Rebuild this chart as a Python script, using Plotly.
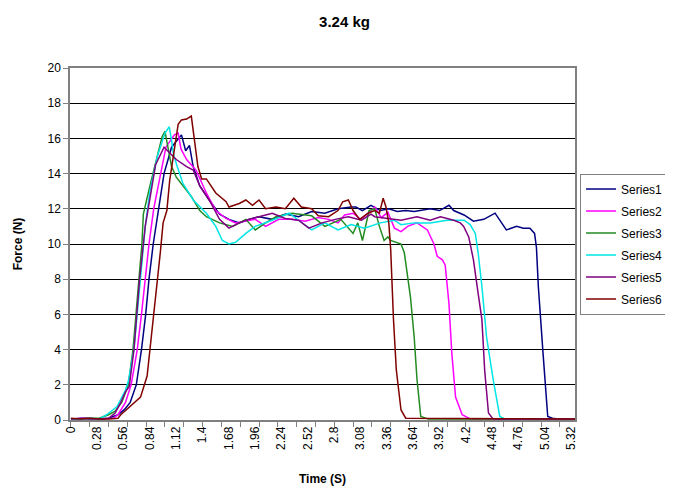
import plotly.graph_objects as go

# ---- data (time in s, force in N) ----
s1_t = [0, 0.12, 0.2, 0.3, 0.4, 0.5, 0.57, 0.63, 0.695, 0.75, 0.795, 0.83, 0.875, 0.93, 0.99, 1.07, 1.13, 1.175, 1.22, 1.26, 1.30, 1.37, 1.47, 1.58, 1.68, 1.79, 1.89, 2.0, 2.14, 2.28, 2.42, 2.56, 2.70, 2.84, 2.98, 3.03, 3.10, 3.19, 3.29, 3.38, 3.47, 3.56, 3.65, 3.74, 3.82, 3.92, 4.02, 4.07, 4.18, 4.28, 4.39, 4.51, 4.57, 4.63, 4.74, 4.81, 4.88, 4.93, 4.95, 4.97, 5.02, 5.07, 5.12, 5.2, 5.36]
s1_f = [0.05, 0.1, 0.05, 0.05, 0.1, 0.3, 0.6, 1.0, 2.0, 4.0, 6.0, 8.0, 10.0, 12.0, 14.0, 15.5, 15.9, 16.2, 15.3, 15.6, 14.4, 13.3, 12.5, 11.7, 11.4, 11.2, 11.4, 11.55, 11.4, 11.7, 11.55, 11.85, 11.75, 12.0, 12.1, 12.1, 11.9, 12.2, 11.9, 12.0, 11.85, 11.9, 11.85, 11.95, 12.0, 11.9, 12.2, 11.9, 11.65, 11.3, 11.4, 11.75, 11.3, 10.8, 11.0, 10.9, 10.9, 10.6, 9.8, 7.6, 3.8, 0.2, 0.1, 0.05, 0.05]

s2_t = [0, 0.15, 0.3, 0.45, 0.5, 0.58, 0.64, 0.705, 0.75, 0.79, 0.83, 0.88, 0.95, 1.01, 1.1, 1.14, 1.17, 1.23, 1.33, 1.44, 1.54, 1.65, 1.75, 1.86, 1.96, 2.07, 2.21, 2.35, 2.49, 2.63, 2.74, 2.84, 2.91, 3.0, 3.08, 3.16, 3.23, 3.30, 3.37, 3.44, 3.51, 3.58, 3.68, 3.79, 3.86, 3.895, 3.95, 3.98, 4.02, 4.05, 4.09, 4.16, 4.25, 5.36]
s2_f = [0.05, 0.1, 0.05, 0.1, 0.3, 1.0, 2.0, 4.0, 6.0, 8.0, 10.0, 12.0, 14.0, 15.5, 16.2, 16.3, 15.4, 14.8, 14.2, 12.9, 11.9, 11.45, 11.2, 11.3, 11.4, 11.0, 11.4, 11.4, 11.3, 11.5, 11.4, 11.2, 11.65, 11.75, 11.4, 11.75, 12.1, 11.5, 11.8, 10.9, 10.7, 11.0, 11.2, 10.8, 10.0, 9.3, 9.1, 8.8, 6.6, 3.8, 1.3, 0.3, 0.05, 0.05]

s3_t = [0, 0.1, 0.2, 0.3, 0.4, 0.47, 0.54, 0.61, 0.66, 0.695, 0.723, 0.755, 0.77, 0.84, 0.915, 0.97, 1.0, 1.025, 1.07, 1.12, 1.19, 1.28, 1.37, 1.44, 1.58, 1.72, 1.86, 1.96, 2.07, 2.18, 2.35, 2.56, 2.70, 2.87, 3.0, 3.05, 3.1, 3.17, 3.23, 3.28, 3.33, 3.37, 3.40, 3.45, 3.51, 3.545, 3.58, 3.61, 3.65, 3.68, 3.72, 3.8, 5.36]
s3_f = [0.05, 0.05, 0.1, 0.1, 0.3, 0.5, 1.0, 2.0, 4.0, 6.0, 8.0, 10.0, 11.7, 13.3, 15.0, 16.1, 16.4, 15.7, 14.4, 13.8, 13.3, 12.7, 11.9, 11.55, 11.2, 11.0, 11.4, 10.8, 11.2, 11.55, 11.75, 11.6, 11.0, 11.4, 10.6, 11.2, 10.2, 11.9, 12.0, 11.0, 10.2, 10.4, 10.2, 10.1, 10.0, 9.5, 8.1, 7.0, 4.7, 2.3, 0.2, 0.05, 0.05]

s4_t = [0, 0.1, 0.2, 0.3, 0.38, 0.49, 0.58, 0.61, 0.67, 0.74, 0.79, 0.84, 0.92, 1.0, 1.045, 1.07, 1.09, 1.13, 1.19, 1.30, 1.44, 1.54, 1.61, 1.68, 1.75, 1.86, 1.96, 2.14, 2.32, 2.42, 2.56, 2.70, 2.84, 2.98, 3.12, 3.29, 3.44, 3.51, 3.65, 3.82, 4.0, 4.18, 4.245, 4.3, 4.33, 4.37, 4.42, 4.49, 4.56, 4.62, 5.36]
s4_f = [0.05, 0.05, 0.1, 0.05, 0.3, 0.76, 1.7, 2.2, 4.0, 8.0, 11.0, 13.0, 15.0, 16.3, 16.66, 15.9, 15.1, 14.4, 13.45, 12.5, 11.75, 11.0, 10.2, 10.0, 10.1, 10.6, 11.0, 11.35, 11.75, 11.35, 10.8, 11.2, 10.8, 11.1, 10.9, 11.2, 11.35, 11.1, 11.2, 11.2, 11.35, 11.35, 11.1, 10.6, 9.5, 7.6, 4.7, 2.3, 0.2, 0.05, 0.05]

s5_t = [0, 0.15, 0.3, 0.4, 0.47, 0.53, 0.58, 0.62, 0.67, 0.73, 0.79, 0.85, 0.9, 0.99, 1.05, 1.12, 1.23, 1.30, 1.37, 1.47, 1.58, 1.68, 1.79, 1.89, 2.0, 2.14, 2.28, 2.42, 2.53, 2.67, 2.81, 2.95, 3.09, 3.19, 3.23, 3.37, 3.51, 3.68, 3.82, 3.93, 4.07, 4.14, 4.176, 4.23, 4.28, 4.33, 4.37, 4.40, 4.44, 4.49, 5.36]
s5_f = [0.05, 0.1, 0.05, 0.1, 0.4, 1.0, 1.6, 1.9, 4.0, 8.0, 11.0, 13.0, 14.5, 15.5, 15.2, 14.8, 14.4, 14.2, 13.3, 12.5, 11.4, 10.9, 11.2, 11.4, 11.55, 11.75, 11.45, 11.35, 10.9, 11.2, 11.4, 11.55, 11.35, 11.7, 11.55, 11.45, 11.35, 11.55, 11.35, 11.55, 11.35, 11.2, 11.0, 10.4, 9.1, 7.2, 5.7, 2.8, 0.4, 0.05, 0.05]

s6_t = [0, 0.1, 0.2, 0.3, 0.4, 0.5, 0.53, 0.63, 0.74, 0.81, 0.84, 0.88, 0.91, 0.95, 0.98, 1.02, 1.05, 1.1, 1.14, 1.175, 1.23, 1.28, 1.315, 1.35, 1.39, 1.44, 1.54, 1.65, 1.68, 1.79, 1.86, 1.93, 2.0, 2.07, 2.18, 2.28, 2.37, 2.45, 2.56, 2.63, 2.74, 2.84, 2.89, 2.95, 3.0, 3.07, 3.16, 3.23, 3.28, 3.32, 3.35, 3.38, 3.40, 3.43, 3.46, 3.51, 3.56, 5.36]
s6_f = [0.1, 0.05, 0.1, 0.05, 0.05, 0.1, 0.3, 0.76, 1.3, 2.5, 4.0, 5.7, 7.6, 9.5, 11.2, 11.9, 13.6, 15.3, 16.8, 17.05, 17.1, 17.27, 15.9, 14.4, 13.7, 13.7, 12.9, 12.4, 12.1, 12.3, 12.5, 12.2, 12.5, 12.0, 12.1, 12.0, 12.6, 12.1, 12.0, 11.6, 11.55, 11.9, 12.4, 12.5, 11.9, 11.4, 11.75, 11.9, 11.75, 12.6, 12.1, 11.2, 9.7, 5.7, 2.84, 0.57, 0.1, 0.05]

series_names = ["Series1", "Series2", "Series3", "Series4", "Series5", "Series6"]
series_t = [s1_t, s2_t, s3_t, s4_t, s5_t, s6_t]
series_f = [s1_f, s2_f, s3_f, s4_f, s5_f, s6_f]
colors = ["#000080", "#FF00FF", "#228B22", "#00E5E5", "#800080", "#800000"]

x_tick_labels = ["0", "0.28", "0.56", "0.84", "1.12", "1.4", "1.68", "1.96", "2.24", "2.52",
                 "2.8", "3.08", "3.36", "3.64", "3.92", "4.2", "4.48", "4.76", "5.04", "5.32"]
x_tick_vals = [float(v) for v in x_tick_labels]

FONT = "Liberation Sans, Arial, sans-serif"

fig = go.Figure()
for name, t, f, c in zip(series_names, series_t, series_f, colors):
    fig.add_trace(go.Scatter(x=t, y=f, mode="lines", name=name, legendgroup=name,
                             line=dict(color=c, width=1.5)))

fig.update_layout(
    width=673, height=488,
    paper_bgcolor="white", plot_bgcolor="white",
    margin=dict(l=62, r=101, t=60, b=76),
    font=dict(family=FONT, size=12, color="black"),
    title=dict(text="<b>3.24 kg</b>", x=0.50, xref="container", xanchor="center",
               y=0.971, yref="container", yanchor="middle",
               font=dict(size=15, family=FONT, color="black")),
    showlegend=True,
    legend=dict(x=1.01, xanchor="left", y=0.5, yanchor="middle",
                bordercolor="#808080", borderwidth=1, bgcolor="white",
                font=dict(size=12, family=FONT), itemwidth=30,
                tracegroupgap=3, traceorder="grouped"),
)

fig.update_xaxes(
    range=[-0.01, 5.36],
    tickmode="array", tickvals=x_tick_vals, ticktext=x_tick_labels,
    tickangle=-90, ticks="", showgrid=False, zeroline=False,
    showline=True, linecolor="#808080", linewidth=1.5, mirror=True,
    tickfont=dict(size=12, family=FONT),
    minor=dict(ticks="outside", tickmode="linear", tick0=0, dtick=0.2,
               ticklen=5, tickcolor="#808080", showgrid=False),
    title=dict(text="<b>Time (S)</b>", font=dict(size=12, family=FONT), standoff=26),
    automargin=False,
)
fig.update_yaxes(
    range=[0, 20], dtick=2, tick0=0,
    showgrid=True, gridcolor="black", gridwidth=1, zeroline=False,
    showline=True, linecolor="#808080", linewidth=1.5, mirror=True,
    ticks="outside", ticklen=5, tickcolor="#808080",
    tickfont=dict(size=12, family=FONT),
    title=dict(text="<b>Force (N)</b>", font=dict(size=12, family=FONT), standoff=22),
    automargin=False,
)

fig.write_html("out.html")
